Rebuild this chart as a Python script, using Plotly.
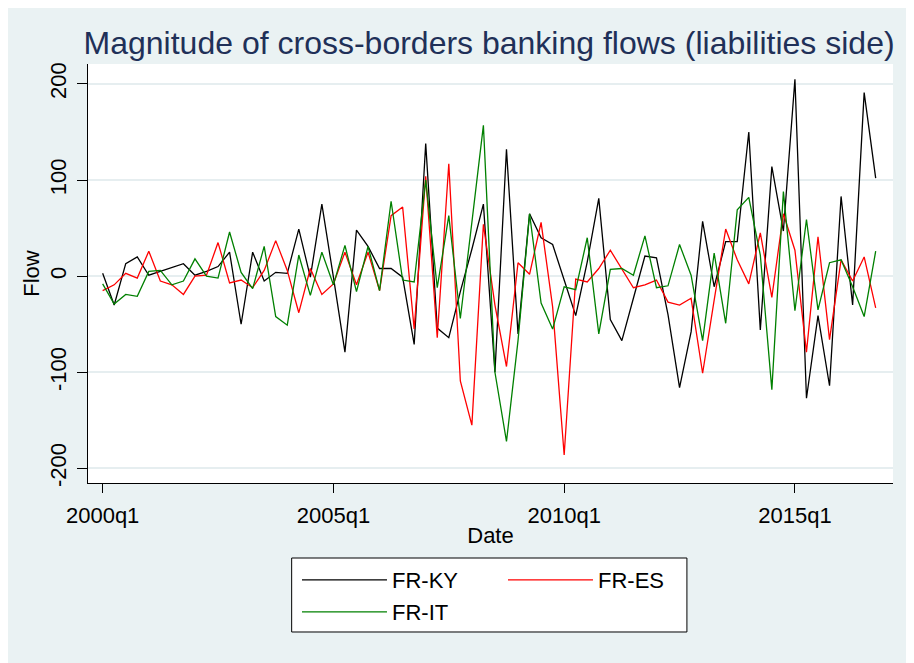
import plotly.graph_objects as go

# quarterly dates, 2000q1 .. 2016q4
quarters = [f"{y}q{q}" for y in range(2000, 2017) for q in range(1, 5)]
tick_labels = ["2000q1", "2005q1", "2010q1", "2015q1"]
y_ticks = [-200, -100, 0, 100, 200]
y_tick_text = ["-200", "-100", "0", "100", "200"]

fr_ky = [3, -30, 13, 20, 1, 5, 9, 13,
         1, 5, 10, 25, -50, 25, -5, 4,
         3, 49, -1, 75, -1, -79, 48, 31,
         8, 8, -1, -71, 138, -54, -64, -16,
         28, 75, -100, 132, -60, 65, 40, 33,
         -4, -41, 15, 81, -45, -67, -23, 21,
         19, -40, -116, -58, 57, -11, 36, 36,
         150, -56, 114, 47, 205, -127, -41, -114,
         83, -30, 191, 102]
fr_es = [-15, -9, 3, -2, 26, -5, -9, -19,
         0, 1, 35, -7, -4, -12, 6, 37,
         6, -38, 8, -19, -8, 25, -9, 25,
         -15, 63, 72, -55, 104, -64, 117, -109,
         -155, 54, -30, -94, 14, 2, 56, -32,
         -186, -3, -6, 8, 27, 8, -12, -9,
         -4, -27, -30, -23, -101, -25, 49, 17,
         -8, 45, -22, 65, 27, -79, 41, -66,
         17, -5, 20, -33]
fr_it = [-8, -29, -19, -21, 5, 6, -9, -5,
         18, 0, -2, 46, 4, -13, 31, -42,
         -51, 22, -20, 25, -9, 32, -16, 31,
         -15, 78, -4, -6, 100, -12, 63, -44,
         56, 157, -100, -172, -67, 65, -28, -55,
         -11, -14, 40, -60, 7, 8, 1, 42,
         -12, -10, 33, 1, -67, 24, -49, 69,
         82, 22, -118, 88, -36, 59, -35, 14,
         17, -11, -42, 26]

FONT = "Arial, Liberation Sans, sans-serif"
BG = "#EAF2F3"

fig = go.Figure()
fig.add_trace(go.Scatter(x=quarters, y=fr_ky, mode="lines", name="FR-KY",
                         line=dict(color="black", width=1.3), legend="legend"))
fig.add_trace(go.Scatter(x=quarters, y=fr_es, mode="lines", name="FR-ES",
                         line=dict(color="#FF0000", width=1.3), legend="legend"))
fig.add_trace(go.Scatter(x=quarters, y=fr_it, mode="lines", name="FR-IT",
                         line=dict(color="#008000", width=1.3), legend="legend2"))

# legend frame (Stata style box below the plot)
fig.add_shape(type="rect", xref="paper", yref="paper",
              x0=0.253, x1=0.744, y0=-0.3556, y1=-0.179,
              line=dict(color="black", width=1), fillcolor="white", layer="below")

legend_style = dict(
    orientation="h", xanchor="left", yanchor="middle", x=0.2596,
    bgcolor="rgba(0,0,0,0)", borderwidth=0,
    font=dict(family=FONT, size=22, color="black"),
    itemwidth=85, entrywidth=106, traceorder="normal",
)

# page body adds an 8px offset, so the figure is 8px smaller than the window
fig.update_layout(
    width=906,
    height=655,
    margin=dict(l=80, r=21, t=56, b=180, autoexpand=False),
    paper_bgcolor=BG,
    plot_bgcolor="white",
    font=dict(family=FONT, color="black"),
    title=dict(
        text="Magnitude of cross-borders banking flows (liabilities side)",
        font=dict(family=FONT, size=32, color="#1F3058"),
        x=0.531, xanchor="center", y=1 - 35 / 655, yanchor="middle",
    ),
    legend=dict(legend_style, y=-0.2315),
    legend2=dict(legend_style, y=-0.308),
)

fig.update_xaxes(
    type="category",
    range=[-1.27, 68.5],
    tickmode="array", tickvals=tick_labels, ticktext=tick_labels,
    ticks="outside", ticklen=9, tickwidth=1, tickcolor="black",
    tickfont=dict(family=FONT, size=22, color="black"),
    ticklabelstandoff=4,
    showline=True, linecolor="black", linewidth=1,
    showgrid=False, zeroline=False,
    title=dict(text="Date", font=dict(family=FONT, size=22, color="black"), standoff=0),
)
fig.update_yaxes(
    range=[-215.2, 220.8],
    tickvals=y_ticks, ticktext=y_tick_text,
    tickangle=-90,
    ticks="outside", ticklen=10, tickwidth=1, tickcolor="black",
    tickfont=dict(family=FONT, size=22, color="black"),
    ticklabelstandoff=2,
    showline=True, linecolor="black", linewidth=1,
    showgrid=True, gridcolor="#E6EEF0", gridwidth=1.5, zeroline=False,
    title=dict(text="Flow", font=dict(family=FONT, size=22, color="black"), standoff=0),
)

fig.write_html("out.html")
